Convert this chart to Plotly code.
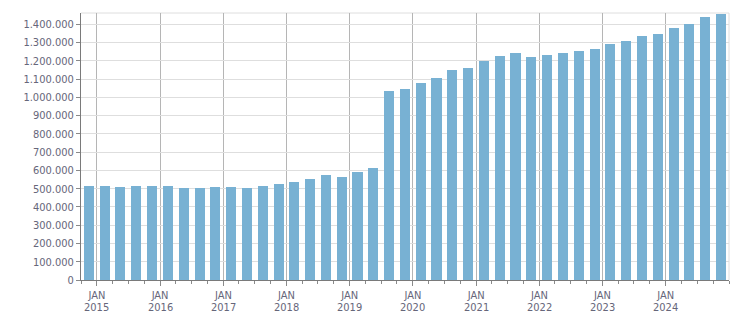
import pandas as pd
import plotly.graph_objects as go

quarters = [
    "2014Q4",
    "2015Q1", "2015Q2", "2015Q3", "2015Q4",
    "2016Q1", "2016Q2", "2016Q3", "2016Q4",
    "2017Q1", "2017Q2", "2017Q3", "2017Q4",
    "2018Q1", "2018Q2", "2018Q3", "2018Q4",
    "2019Q1", "2019Q2", "2019Q3", "2019Q4",
    "2020Q1", "2020Q2", "2020Q3", "2020Q4",
    "2021Q1", "2021Q2", "2021Q3", "2021Q4",
    "2022Q1", "2022Q2", "2022Q3", "2022Q4",
    "2023Q1", "2023Q2", "2023Q3", "2023Q4",
    "2024Q1", "2024Q2", "2024Q3", "2024Q4",
]
values = [
    514000,
    514000, 509000, 514000, 514000,
    514000, 503000, 503000, 509000,
    509000, 503000, 514000, 525000,
    534000, 551000, 573000, 562000,
    589000, 611000, 1036000, 1047000,
    1080000, 1108000, 1152000, 1163000,
    1201000, 1228000, 1244000, 1222000,
    1233000, 1243000, 1254000, 1265000,
    1292000, 1310000, 1337000, 1348000,
    1381000, 1403000, 1441000, 1458000,
]
year_ticks = ["2015-01-01", "2016-01-01", "2017-01-01", "2018-01-01", "2019-01-01",
              "2020-01-01", "2021-01-01", "2022-01-01", "2023-01-01", "2024-01-01"]
month_labels = ["JAN"] * len(year_ticks)
year_labels = ["2015", "2016", "2017", "2018", "2019",
               "2020", "2021", "2022", "2023", "2024"]
y_ticks = list(range(0, 1400001, 100000))
y_labels = ["0" if v == 0 else f"{v:,}".replace(",", ".") for v in y_ticks]

# bar centred at the middle of each quarter
periods = pd.PeriodIndex(quarters, freq="Q")
x_mid = [p.start_time + (p.end_time - p.start_time) / 2 for p in periods]

bar_color = "#78b1d3"
txt = "#66667a"
font_fam = "DejaVu Sans Condensed, DejaVu Sans, sans-serif"

fig = go.Figure()
fig.add_trace(go.Bar(
    x=x_mid, y=values,
    marker=dict(color=bar_color, line=dict(width=0)),
    width=58 * 86400000,
    hoverinfo="x+y",
))

fig.update_layout(
    width=751, height=313,
    margin=dict(l=81, r=22, t=13, b=33),
    paper_bgcolor="white", plot_bgcolor="white",
    showlegend=False,
    font=dict(family=font_fam, size=11, color=txt),
    xaxis=dict(
        type="date",
        automargin=False,
        range=["2014-10-01", "2025-01-01"],
        tickmode="array", tickvals=year_ticks, ticktext=month_labels,
        showgrid=True, gridcolor="#b5b5b5", gridwidth=1,
        ticks="outside", ticklen=5, tickcolor="#8a8a8a",
        showline=True, linecolor="#7a7a7a", linewidth=1,
        tickfont=dict(family=font_fam, size=11, color=txt),
        minor=dict(dtick="M3", tick0="2015-01-01", ticks="outside", ticklen=3,
                   tickcolor="#8a8a8a", showgrid=False),
        zeroline=False,
    ),
    yaxis=dict(
        automargin=False,
        range=[0, 1461500],
        tickmode="array", tickvals=y_ticks, ticktext=y_labels,
        showgrid=True, gridcolor="#dedede", gridwidth=1,
        ticks="outside", ticklen=4, tickcolor="#8a8a8a",
        showline=True, linecolor="#7a7a7a", linewidth=1,
        tickfont=dict(family=font_fam, size=11, color=txt),
        zeroline=False,
    ),
    bargap=0,
)
for xv, lab in zip(year_ticks, year_labels):
    fig.add_annotation(x=xv, xref="x", y=0, yref="paper", text=lab,
                       showarrow=False, yanchor="top", yshift=-19,
                       font=dict(family=font_fam, size=11, color=txt))
# light frame on top and right edges of the plot area
fig.add_shape(type="line", xref="paper", yref="paper", x0=0, x1=1, y0=1, y1=1,
              line=dict(color="#dedede", width=1), layer="below")
fig.add_shape(type="line", xref="paper", yref="paper", x0=1, x1=1, y0=0, y1=1,
              line=dict(color="#dedede", width=1), layer="below")

fig.write_html("out.html")
